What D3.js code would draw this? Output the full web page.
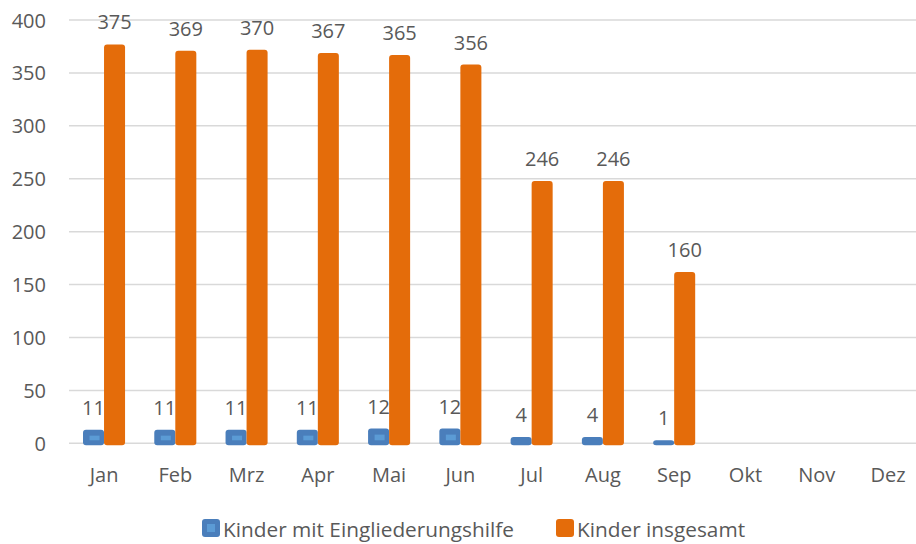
<!DOCTYPE html>
<html>
<head>
<meta charset="utf-8">
<script src="https://cdn.jsdelivr.net/npm/d3@7"></script>
<style>
  body { margin: 0; background: #fff; }
  svg text { font-family: "Open Sans", sans-serif; fill: #595959; }
</style>
</head>
<body>
<div id="chart"></div>
<script>
// Chart data
const months = ["Jan", "Feb", "Mrz", "Apr", "Mai", "Jun", "Jul", "Aug", "Sep", "Okt", "Nov", "Dez"]
const eingliederung = [11, 11, 11, 11, 12, 12, 4, 4, 1, null, null, null]
const insgesamt = [375, 369, 370, 367, 365, 356, 246, 246, 160, null, null, null]
const seriesNames = ["Kinder mit Eingliederungshilfe", "Kinder insgesamt"]
const yTicks = [0, 50, 100, 150, 200, 250, 300, 350, 400]

const width = 916
const height = 544
const blue = "#4a7ebb"
const blueLight = "#5b9bd5"
const orange = "#e46c0a"

const svg = d3.select("#chart")
  .append("svg")
  .attr("width", width)
  .attr("height", height)

// Scales
const x = d3.scaleBand()
  .domain(months)
  .range([68.4, 923.6])
  .paddingInner(0.41)
  .paddingOuter(0.205)

const x1 = d3.scaleBand()
  .domain(seriesNames)
  .range([0, x.bandwidth()])

const y = d3.scaleLinear()
  .domain([0, 400])
  .range([443.3, 20])

// Gridlines
svg.append("g")
  .selectAll("line")
  .data(yTicks)
  .join("line")
  .attr("x1", 69)
  .attr("x2", width)
  .attr("y1", d => y(d))
  .attr("y2", d => y(d))
  .attr("stroke", "#d9d9d9")
  .attr("stroke-width", 1.5)

// Y axis labels
const yAxis = d3.axisLeft(y).tickValues(yTicks).tickSize(0).tickPadding(0)
svg.append("g")
  .attr("transform", "translate(46,0)")
  .call(yAxis)
  .call(g => g.select(".domain").remove())
  .selectAll("text")
  .attr("font-size", 20)
  .attr("font-family", null)
  .attr("dy", "0.35em")

// X axis labels
const xAxis = d3.axisBottom(x).tickSize(0).tickPadding(0)
svg.append("g")
  .attr("transform", "translate(0,467.5)")
  .call(xAxis)
  .call(g => g.select(".domain").remove())
  .selectAll("text")
  .attr("font-size", 20)
  .attr("font-family", null)

const rows = months.map((m, i) => ({ month: m, values: [eingliederung[i], insgesamt[i]] }))

const groups = svg.append("g")
  .selectAll("g")
  .data(rows)
  .join("g")
  .attr("transform", d => `translate(${x(d.month)},0)`)

const bars = groups.selectAll("g")
  .data(d => d.values.map((v, j) => ({ key: seriesNames[j], value: v })).filter(d => d.value != null))
  .join("g")

// Bars (slight bevel look like the office chart)
bars.append("rect")
  .attr("x", d => x1(d.key))
  .attr("width", x1.bandwidth())
  .attr("y", d => y(d.value) - 2)
  .attr("height", d => y(0) - y(d.value) + 4)
  .attr("rx", 3)
  .attr("fill", d => d.key == seriesNames[0] ? blue : orange)

bars.filter(d => d.key == seriesNames[0] && y(0) - y(d.value) > 6)
  .append("rect")
  .attr("x", d => x1(d.key) + 6.5)
  .attr("width", x1.bandwidth() - 11)
  .attr("y", d => y(d.value) + 4)
  .attr("height", d => y(0) - y(d.value) - 7)
  .attr("fill", blueLight)

// Value labels
bars.append("text")
  .attr("x", d => x1(d.key) + x1.bandwidth() / 2)
  .attr("y", d => y(d.value) - 17)
  .attr("text-anchor", "middle")
  .attr("font-size", 20)
  .text(d => d.value)

// Legend
const legend = svg.append("g").attr("id", "legend")
const legendX = [202, 556]
const colors = [blue, orange]
seriesNames.forEach((name, i) => {
  legend.append("rect")
    .attr("x", legendX[i])
    .attr("y", 519)
    .attr("width", 18)
    .attr("height", 18)
    .attr("rx", 3)
    .attr("fill", colors[i])
  if (i == 0) {
    legend.append("rect")
      .attr("x", legendX[i] + 5)
      .attr("y", 524)
      .attr("width", 8)
      .attr("height", 8)
      .attr("fill", blueLight)
  }
  legend.append("text")
    .attr("x", legendX[i] + 21)
    .attr("y", 537)
    .attr("font-size", 20.8)
    .text(name)
})
</script>
</body>
</html>
